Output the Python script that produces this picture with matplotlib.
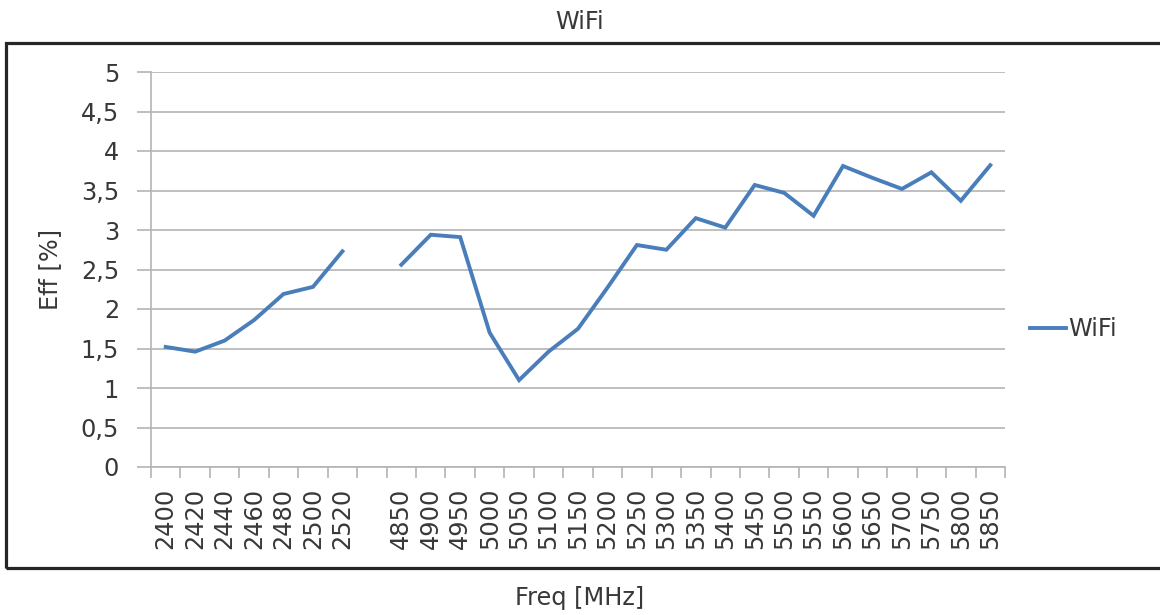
import numpy as np
import matplotlib
matplotlib.use("Agg")
import matplotlib.pyplot as plt
from matplotlib.patches import Rectangle

# frequency categories (blank slot between the 2.4 GHz and 5 GHz bands)
freq_labels = ["2400", "2420", "2440", "2460", "2480", "2500", "2520", "",
               "4850", "4900", "4950", "5000", "5050", "5100", "5150", "5200",
               "5250", "5300", "5350", "5400", "5450", "5500", "5550", "5600",
               "5650", "5700", "5750", "5800", "5850"]
eff = [1.52, 1.46, 1.60, 1.86, 2.19, 2.28, 2.73, np.nan,
       2.56, 2.94, 2.91, 1.70, 1.10, 1.46, 1.75, 2.27,
       2.81, 2.75, 3.15, 3.03, 3.57, 3.47, 3.18, 3.81,
       3.66, 3.52, 3.73, 3.37, 3.82]
y_ticks = [0, 0.5, 1, 1.5, 2, 2.5, 3, 3.5, 4, 4.5, 5]
y_tick_labels = ["0", "0,5", "1", "1,5", "2", "2,5", "3", "3,5", "4", "4,5", "5"]

plt.rcParams['font.family'] = ['DejaVu Sans']
FS = 17.3
grid_col = "#b4b4b4"
txt_col = "#383838"

W, H = 1160, 615
fig = plt.figure(figsize=(W / 100, H / 100), dpi=100)
ax = fig.add_axes([151 / W, 1 - 467 / H, (1005 - 151) / W, (467 - 72) / H])

x = np.arange(len(freq_labels))
ax.plot(x, eff, color="#4a7ebb", lw=2.8, solid_joinstyle="miter", label="WiFi")

ax.set_xlim(-0.5, len(freq_labels) - 0.5)
ax.set_ylim(0, 5)
ax.set_yticks(y_ticks)
ax.set_yticklabels(y_tick_labels, fontsize=FS, color=txt_col)
ax.yaxis.grid(True, color=grid_col, lw=1.2)
ax.set_axisbelow(True)
ax.tick_params(axis="y", length=10, width=1.2, color=grid_col, pad=13)

# labels at category centres, tick marks at category boundaries
ax.set_xticks(x)
ax.set_xticklabels(freq_labels, rotation=90, fontsize=FS, color=txt_col)
ax.set_xticks(np.arange(len(freq_labels) + 1) - 0.5, minor=True)
ax.tick_params(axis="x", which="major", length=0, pad=15)
ax.tick_params(axis="x", which="minor", length=8, width=1.2, color=grid_col)

for s in ["top", "right"]:
    ax.spines[s].set_visible(False)
for s in ["left", "bottom"]:
    ax.spines[s].set_color(grid_col)
    ax.spines[s].set_linewidth(1.2)

ax.set_ylabel("Eff [%]", fontsize=FS, color=txt_col)
ax.yaxis.set_label_coords(-0.104, 0.5)

ax.legend(loc="center left", bbox_to_anchor=(1030 / W, 1 - 329 / H),
          bbox_transform=fig.transFigure, frameon=False, fontsize=FS,
          borderaxespad=0, borderpad=0,
          handlelength=1.5, handletextpad=0.1, labelcolor=txt_col)

# outer chart frame
fig.patches.append(Rectangle((6 / W, 1 - 568 / H), 1.2, (568 - 43) / H,
                             transform=fig.transFigure, fill=False,
                             edgecolor="#262626", lw=2.3))

fig.text(580 / W, 1 - 22 / H, "WiFi", fontsize=FS, color=txt_col,
         ha="center", va="center")
fig.text(580 / W, 1 - 598 / H, "Freq [MHz]", fontsize=FS, color=txt_col,
         ha="center", va="center")

fig.savefig("out.png", dpi=100)
